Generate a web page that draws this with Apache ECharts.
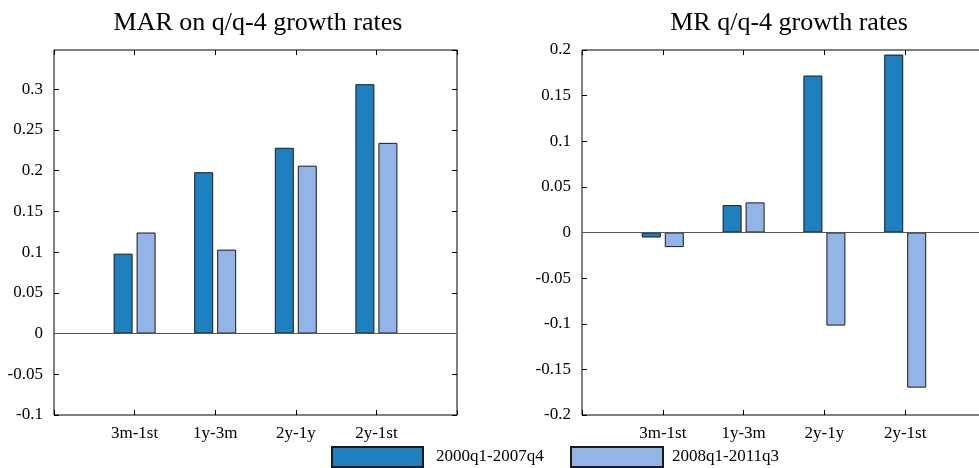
<!DOCTYPE html>
<html>
<head>
<meta charset="utf-8">
<script src="https://cdn.jsdelivr.net/npm/echarts@6/dist/echarts.min.js"></script>
<style>html,body{margin:0;padding:0;background:#fff}#c{width:979px;height:468px}</style>
</head>
<body>
<div id="c"></div>
<script>
var categories = ['3m-1st', '1y-3m', '2y-1y', '2y-1st'];
var seriesNames = ['2000q1-2007q4', '2008q1-2011q3'];
var marPre = [0.098, 0.198, 0.228, 0.306];
var marPost = [0.124, 0.103, 0.206, 0.234];
var mrPre = [-0.0055, 0.030, 0.172, 0.195];
var mrPost = [-0.016, 0.033, -0.102, -0.170];
var titles = ['MAR on q/q-4 growth rates', 'MR q/q-4 growth rates'];

var FONT = '"Liberation Serif", "Times New Roman", serif';
var colors = ['#1f80c0', '#92b4e6'];
var axisCats = [''].concat(categories, ['']);
function pad(a) { return [null].concat(a, [null]); }

var grids = [
  {left: 54, top: 50, width: 403, height: 365},
  {left: 582, top: 50, width: 404, height: 365}
];
var yRanges = [{min: -0.1, max: 0.348}, {min: -0.2, max: 0.2}];

var xAxes = [], yAxes = [], series = [];
grids.forEach(function (g, i) {
  g.show = true; g.borderColor = '#000'; g.borderWidth = 1; g.backgroundColor = '#fff';
  g.containLabel = false; g.outerBoundsMode = 'none';
  xAxes.push({
    type: 'category', gridIndex: i, data: axisCats, boundaryGap: false, position: 'bottom',
    axisLine: {show: false, onZero: false}, axisTick: {inside: true, length: 5, lineStyle: {color: '#000'}},
    axisLabel: {color: '#000', fontFamily: FONT, fontSize: 17, margin: 10, interval: 0}
  });
  xAxes.push({
    type: 'category', gridIndex: i, data: axisCats, boundaryGap: false, position: 'top',
    axisLine: {show: false, onZero: false}, axisTick: {inside: true, length: 5, lineStyle: {color: '#000'}},
    axisLabel: {show: false}
  });
  yAxes.push({
    type: 'value', gridIndex: i, min: yRanges[i].min, max: yRanges[i].max, interval: 0.05,
    splitLine: {show: false}, axisLine: {show: false, onZero: false},
    axisTick: {show: true, inside: true, length: 5, lineStyle: {color: '#000'}},
    axisLabel: {color: '#000', fontFamily: FONT, fontSize: 17, margin: 11, showMaxLabel: i === 1,
      formatter: function (v) { return String(Math.round(v * 1000) / 1000); }}
  });
  yAxes.push({
    type: 'value', gridIndex: i, position: 'right', min: yRanges[i].min, max: yRanges[i].max, interval: 0.05,
    splitLine: {show: false}, axisLine: {show: false, onZero: false},
    axisTick: {show: true, inside: true, length: 5, lineStyle: {color: '#000'}},
    axisLabel: {show: false}
  });
});

var dataSets = [[marPre, marPost], [mrPre, mrPost]];
dataSets.forEach(function (pair, i) {
  pair.forEach(function (arr, k) {
    var s = {
      type: 'bar', name: seriesNames[k], xAxisIndex: i * 2, yAxisIndex: i * 2,
      data: pad(arr), barWidth: 19, barGap: '21%',
      itemStyle: {color: colors[k], borderColor: '#1a1a1a', borderWidth: 1},
      emphasis: {disabled: true}, animation: false
    };
    if (k === 0) {
      s.markLine = {silent: true, symbol: 'none', label: {show: false},
        lineStyle: {color: '#555', width: 1, type: 'solid'}, data: [{yAxis: 0}], animation: false};
    }
    series.push(s);
  });
});

var chart = echarts.init(document.getElementById('c'));
chart.setOption({
  animation: false,
  title: [
    {text: titles[0], left: 253, top: 5, textAlign: 'center', textStyle: {fontFamily: FONT, fontSize: 26, fontWeight: 'normal', color: '#000'}},
    {text: titles[1], left: 784, top: 5, textAlign: 'center', textStyle: {fontFamily: FONT, fontSize: 26, fontWeight: 'normal', color: '#000'}}
  ],
  grid: grids,
  xAxis: xAxes,
  yAxis: yAxes,
  legend: [
    {data: [seriesNames[0]], left: 331, top: 446, itemWidth: 91, itemHeight: 20, padding: 0, icon: 'rect',
      textStyle: {fontFamily: FONT, fontSize: 17, color: '#000', padding: [0, 0, 0, 8]}, selectedMode: false},
    {data: [seriesNames[1]], left: 570, top: 446, itemWidth: 92, itemHeight: 20, padding: 0, icon: 'rect',
      textStyle: {fontFamily: FONT, fontSize: 17, color: '#000', padding: [0, 0, 0, 4]}, selectedMode: false}
  ],
  series: series
});
</script>
</body>
</html>
